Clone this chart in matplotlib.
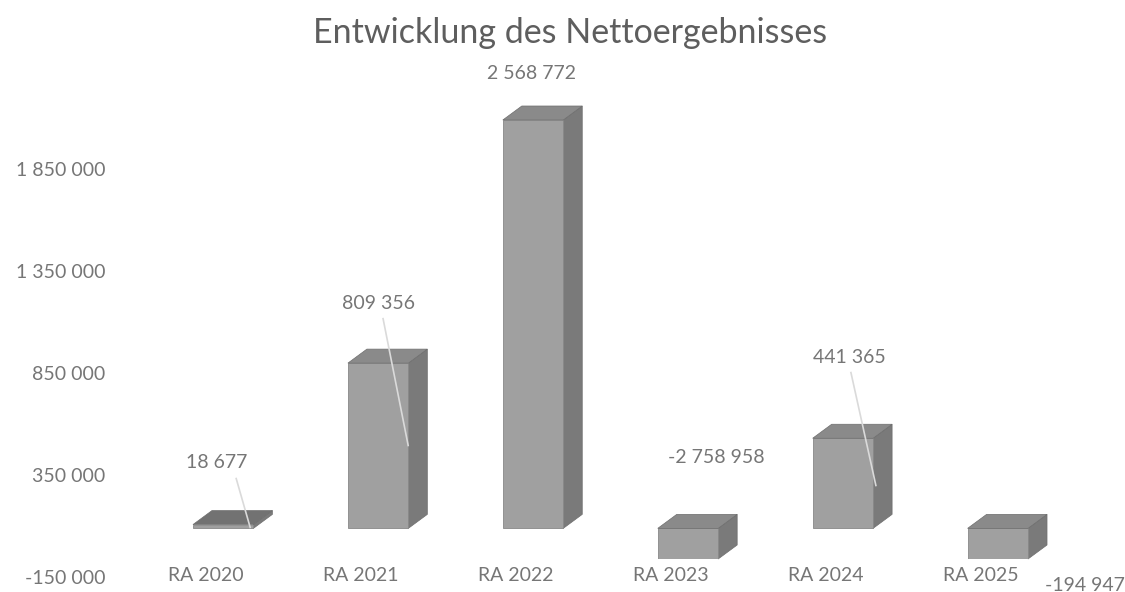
import numpy as np
import matplotlib
matplotlib.use("Agg")
import matplotlib.pyplot as plt
from matplotlib.patches import Polygon
from matplotlib.transforms import ScaledTranslation

# Daten
kategorien = ["RA 2020", "RA 2021", "RA 2022", "RA 2023", "RA 2024", "RA 2025"]
werte = [18677, 809356, 2568772, -2758958, 441365, -194947]
wert_texte = ["18 677", "809 356", "2 568 772", "-2 758 958", "441 365", "-194 947"]
y_ticks = [-150000, 350000, 850000, 1350000, 1850000]
y_tick_texte = ["-150 000", "350 000", "850 000", "1 350 000", "1 850 000"]

# Beschriftungspositionen (x in Kategorien, y in Achsenwerten)
label_pos = [(-0.04, 322000), (1.0, 1100000), (1.99, 2230000),
             (3.18, 347000), (4.045, 836000), (5.56, -279000)]
# Führungslinien: x0, y0, x1, y1
leader = [(0.084, 244000, 0.174, 5000),
          (1.032, 1027000, 1.194, 406000),
          (4.052, 763000, 4.213, 210000)]

plt.rcParams['font.family'] = ['Lato', 'DejaVu Sans']
TXT = "#767676"

fig = plt.figure(figsize=(11.25, 5.92), dpi=100)
ax = fig.add_axes([107 / 1125, 33 / 592, 1007 / 1125, 439 / 592])
ymin, ymax = -150000, 2000000
ax.set_xlim(-0.75, 5.75)
ax.set_ylim(ymin, ymax)

x = np.arange(len(kategorien))
breite = 0.39
werte_clip = np.clip(werte, ymin, ymax)

front = "#a0a0a0"
seite = "#7a7a7a"
oben = "#8a8a8a"

# Tiefe der 3D-Balken in Datenkoordinaten (aus Pixeln über die Achsengröße)
ax_w_px = 1007
ax_h_px = 439
ddx = 19 / ax_w_px * (5.75 + 0.75)
ddy = 14 / ax_h_px * (ymax - ymin)

ax.bar(x, werte_clip, width=breite, color=front, edgecolor="#888888", linewidth=0.6, zorder=3)
for xi, v in zip(x, werte_clip):
    x0, x1 = xi - breite / 2, xi + breite / 2
    top, bot = max(v, 0), min(v, 0)
    seite_poly = Polygon([(x1, bot), (x1 + ddx, bot + ddy), (x1 + ddx, top + ddy), (x1, top)],
                         closed=True, facecolor=seite, edgecolor="#6e6e6e", linewidth=0.5,
                         zorder=2, clip_on=False)
    oben_poly = Polygon([(x0, top), (x1, top), (x1 + ddx, top + ddy), (x0 + ddx, top + ddy)],
                        closed=True, facecolor=oben if top - bot > 30000 else "#727272",
                        edgecolor="#6e6e6e", linewidth=0.5, zorder=4, clip_on=False)
    ax.add_patch(seite_poly)
    ax.add_patch(oben_poly)

# Datenbeschriftungen
for (lx, ly), t in zip(label_pos, wert_texte):
    ax.text(lx, ly, t, ha="center", va="center", fontsize=14, color=TXT, zorder=6,
            clip_on=False)
for x0, y0, x1, y1 in leader:
    ax.plot([x0, x1], [y0, y1], color="#dadada", linewidth=1.2, zorder=5, clip_on=False)

# Achsen
ax.set_yticks(y_ticks)
ax.set_yticklabels(y_tick_texte)
ax.set_xticks(x)
ax.set_xticklabels(kategorien)
ax.tick_params(axis="both", length=0, labelsize=14, labelcolor=TXT)
ax.tick_params(axis="y", pad=1)
ax.tick_params(axis="x", pad=6)
for lab in ax.get_yticklabels():
    lab.set_transform(lab.get_transform() + ScaledTranslation(0, -18 / 100, fig.dpi_scale_trans))
for lab in ax.get_xticklabels():
    lab.set_transform(lab.get_transform() + ScaledTranslation(-17 / 100, 0, fig.dpi_scale_trans))
for s in ax.spines.values():
    s.set_visible(False)
ax.patch.set_alpha(0)

fig.text(570 / 1125, 1 - 33 / 592, "Entwicklung des Nettoergebnisses",
         ha="center", va="center", fontsize=24.5, color="#5e5e5e")

fig.savefig("out.png", dpi=100, facecolor="white")
